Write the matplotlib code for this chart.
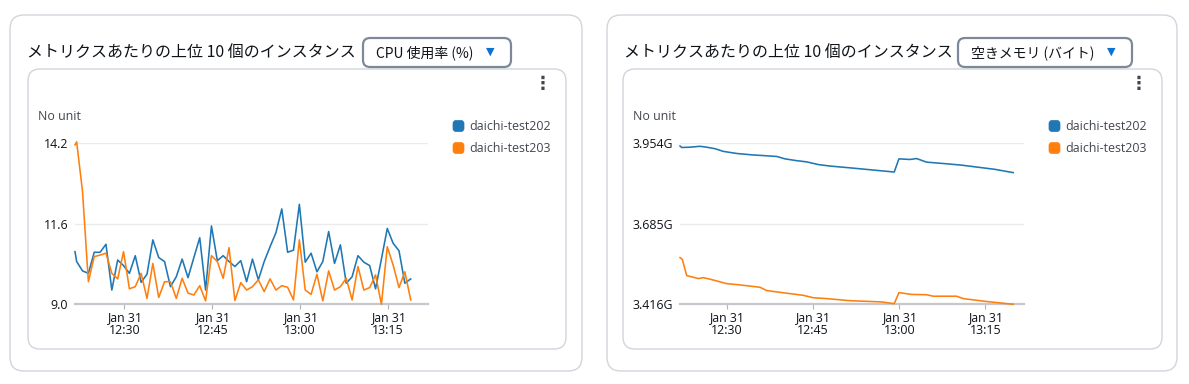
import matplotlib
matplotlib.use('Agg')
import matplotlib.pyplot as plt
import matplotlib.dates as mdates
from matplotlib.patches import FancyBboxPatch
from matplotlib.ticker import FuncFormatter
import pandas as pd

W, H, DPI = 1189, 384, 100

# ---------------- data ----------------
DAY = '2024-01-31 '
panel_title = 'メトリクスあたりの上位 10 個のインスタンス'
metric_names = ['CPU 使用率 (%)', '空きメモリ (バイト)']
unit_label = 'No unit'
instances = ['daichi-test202', 'daichi-test203']
series_colors = ['#1f77b4', '#ff7f0e']

cpu_times = ['12:21:35'] + pd.date_range(DAY + '12:21:52', periods=58, freq='1min').strftime('%H:%M:%S').tolist()
cpu_202 = [10.70, 10.38, 10.08, 10.00, 10.68, 10.68, 10.94, 9.46, 10.43, 10.25,
           10.00, 10.57, 9.71, 9.97, 11.08, 10.51, 10.38, 9.57, 9.89, 10.46,
           9.86, 10.51, 11.15, 9.46, 11.53, 10.41, 10.57, 10.38, 10.22, 10.41,
           9.73, 10.46, 9.79, 10.38, 10.86, 11.31, 12.08, 10.68, 10.75, 12.23,
           10.36, 10.65, 10.05, 10.38, 11.35, 10.32, 10.92, 9.68, 9.89, 10.57,
           10.36, 10.25, 9.50, 10.46, 11.45, 10.97, 10.73, 9.68, 9.82]
cpu_203 = [14.15, 14.25, 12.64, 9.73, 10.54, 10.59, 10.65, 10.00, 9.82, 10.70,
           9.50, 9.57, 10.00, 9.19, 10.32, 9.22, 9.73, 9.73, 9.19, 9.84,
           9.36, 9.30, 9.60, 9.11, 10.57, 10.38, 9.84, 10.83, 9.12, 9.70,
           9.46, 9.57, 9.79, 9.41, 9.82, 9.46, 9.60, 9.55, 9.14, 11.08,
           9.46, 9.32, 9.97, 9.11, 10.08, 9.46, 9.57, 9.84, 9.14, 10.22,
           9.46, 9.54, 9.95, 9.00, 10.86, 10.27, 9.54, 10.05, 9.14]
cpu_yticks = [9.0, 11.6, 14.2]
cpu_xlim = ['12:21:35', '13:21:49']

mem_times_202 = ['12:21:53', '12:22:11', '12:23:37', '12:25:22', '12:26:31', '12:27:58', '12:29:25',
                 '12:31:45', '12:34:37', '12:36:22', '12:38:42', '12:40:08', '12:42:10', '12:43:54',
                 '12:45:55', '12:47:57', '12:49:42', '12:51:26', '12:59:08', '12:59:57', '13:01:52',
                 '13:03:01', '13:04:46', '13:07:57', '13:10:51', '13:13:44', '13:16:38', '13:19:49']
mem_202 = [3.945, 3.940, 3.941, 3.944, 3.941, 3.936, 3.927, 3.920, 3.915, 3.913, 3.910, 3.902,
           3.896, 3.892, 3.883, 3.878, 3.875, 3.872, 3.858, 3.902, 3.900, 3.903, 3.891, 3.886,
           3.881, 3.874, 3.867, 3.856]
mem_times_203 = ['12:21:53', '12:22:17', '12:23:03', '12:25:04', '12:25:56', '12:27:06', '12:30:00',
                 '12:31:45', '12:35:47', '12:36:57', '12:39:16', '12:43:19', '12:45:03', '12:47:23',
                 '12:51:26', '12:56:57', '12:59:08', '12:59:57', '13:02:09', '13:04:46', '13:05:55',
                 '13:09:59', '13:11:08', '13:14:54', '13:19:49']
mem_203 = [3.572, 3.566, 3.512, 3.502, 3.505, 3.500, 3.485, 3.482, 3.473, 3.462, 3.456, 3.446,
           3.438, 3.435, 3.428, 3.424, 3.418, 3.455, 3.449, 3.448, 3.443, 3.443, 3.435, 3.426, 3.416]
mem_yticks = [3.416, 3.685, 3.954]
mem_xlim = ['12:21:53', '13:21:42']

# ---------------- style ----------------
plt.rcParams['font.family'] = ['Open Sans', 'Noto Sans CJK JP', 'DejaVu Sans']
TXT = '#0f141a'
SUB = '#424650'
SMALL = 8.9

def tt(s):
    return pd.Timestamp(DAY + s)

fig = plt.figure(figsize=(W / DPI, H / DPI), dpi=DPI)
fig.patch.set_facecolor('white')
bg = fig.add_axes([0, 0, 1, 1])
bg.set_xlim(0, W)
bg.set_ylim(H, 0)
bg.axis('off')


def rbox(x0, y0, x1, y1, r, ec, lw, fc='white', z=1):
    p = FancyBboxPatch((x0 + r, y0 + r), (x1 - x0 - 2 * r), (y1 - y0 - 2 * r),
                       boxstyle=f'round,pad={r},rounding_size={r}',
                       fc=fc, ec=ec, lw=lw, zorder=z)
    bg.add_patch(p)


panels = [
    dict(ox0=10, ox1=582, dd=(363, 511), ix0=28, ix1=566, ax=(75, 428), leg_x=453,
         times=[cpu_times, cpu_times], vals=[cpu_202, cpu_203], yticks=cpu_yticks,
         xlim=cpu_xlim, fmt=lambda v, _: f'{v:.1f}'),
    dict(ox0=607, ox1=1177, dd=(958, 1132), ix0=623, ix1=1162, ax=(680, 1024), leg_x=1049,
         times=[mem_times_202, mem_times_203], vals=[mem_202, mem_203], yticks=mem_yticks,
         xlim=mem_xlim, fmt=lambda v, _: f'{v:.3f}G'),
]

axes = []
for k, P in enumerate(panels):
    rbox(P['ox0'], 15, P['ox1'], 371, 14, '#d1d5db', 1.0)
    rbox(P['ix0'], 69, P['ix1'], 349, 12, '#d1d5db', 1.0, z=2)
    bg.text(P['ox0'] + 17, 52, panel_title, fontsize=11.5, color=TXT, va='center', ha='left',
            family=['Noto Sans CJK JP', 'DejaVu Sans'])
    d0, d1 = P['dd']
    rbox(d0, 38, d1, 67, 7, '#7d8998', 1.6, z=3)
    bg.text(d0 + 13, 52.5, metric_names[k], fontsize=10, color=TXT, va='center', ha='left',
            family=['Noto Sans CJK JP', 'DejaVu Sans'], zorder=4)
    bg.text(d1 - 21, 52, '▼', fontsize=8, color='#0972d3', va='center', ha='center',
            family='DejaVu Sans', zorder=4)
    bg.text(P['ix1'] - 23, 84, '⋮', fontsize=13, color=SUB, va='center', ha='center',
            family='DejaVu Sans', fontweight='bold', zorder=4)
    bg.text(P['ix0'] + 10, 117, unit_label, fontsize=SMALL, color=SUB, va='center', ha='left', zorder=4)
    for j, name in enumerate(instances):
        cy = 126 + 22 * j
        rbox(P['leg_x'], cy - 5.5, P['leg_x'] + 11, cy + 5.5, 3, series_colors[j], 0.5,
             fc=series_colors[j], z=4)
        bg.text(P['leg_x'] + 16, cy, name, fontsize=SMALL, color=SUB, va='center', ha='left', zorder=4)

    x0, x1 = P['ax']
    y0, y1 = 143.3, 304.3
    ax = fig.add_axes([x0 / W, 1 - y1 / H, (x1 - x0) / W, (y1 - y0) / H])
    ax.set_facecolor('none')
    for j in range(2):
        ts = [tt(s) for s in P['times'][j]]
        ax.plot(ts, P['vals'][j], color=series_colors[j], lw=1.15, clip_on=False, zorder=3)
    ax.set_ylim(P['yticks'][0], P['yticks'][-1])
    ax.set_yticks(P['yticks'])
    ax.yaxis.set_major_formatter(FuncFormatter(P['fmt']))
    ax.set_xlim(tt(P['xlim'][0]), tt(P['xlim'][1]))
    ax.xaxis.set_major_locator(mdates.MinuteLocator(byminute=[0, 15, 30, 45]))
    ax.xaxis.set_major_formatter(mdates.DateFormatter('%b %d\n%H:%M'))
    ax.yaxis.grid(True, color='#e9ebed', lw=1.0)
    ax.set_axisbelow(True)
    for s in ['top', 'right', 'left']:
        ax.spines[s].set_visible(False)
    ax.spines['bottom'].set_color('#c6c6cd')
    ax.spines['bottom'].set_linewidth(1.6)
    ax.spines['bottom'].set_zorder(2)
    ax.tick_params(axis='y', length=0, pad=5.0, labelsize=SMALL, labelcolor=TXT)
    ax.tick_params(axis='x', length=3.5, width=0.8, color='#b4b4bb', pad=1.5,
                   labelsize=SMALL, labelcolor=TXT)
    axes.append(ax)

fig.canvas.draw()
for ax in axes:
    for lbl in ax.get_xticklabels():
        lbl.set_linespacing(0.98)

fig.savefig('out.png', dpi=DPI, facecolor='white')
